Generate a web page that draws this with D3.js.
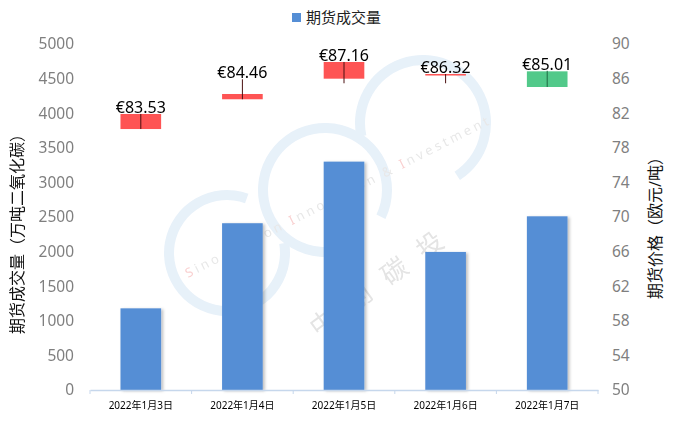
<!DOCTYPE html>
<html>
<head>
<meta charset="utf-8">
<script src="https://cdn.jsdelivr.net/npm/d3@7"></script>
<style>
  body { margin: 0; background: #fff; }
  text { font-family: "Noto Sans", "Noto Sans CJK SC", sans-serif; }
</style>
</head>
<body>
<script>
// data
var dates = ["2022年1月3日", "2022年1月4日", "2022年1月5日", "2022年1月6日", "2022年1月7日"];
var volume = [1180, 2410, 3300, 1995, 2510];
var open_ = [80.17, 83.61, 85.99, 86.53, 86.84];
var close_ = [81.91, 84.22, 87.92, 86.53, 85.03];
var low_ = [80.17, 83.61, 85.46, 85.46, 85.03];
var high_ = [81.91, 85.92, 87.92, 86.53, 86.90];
var priceLabels = ["€83.53", "€84.46", "€87.16", "€86.32", "€85.01"];
var volTicks = d3.range(0, 5001, 500);
var priceTicks = d3.range(50, 91, 4);

var W = 678, H = 421;
var left_ = 90, right_ = 598, top_ = 44, bottom_ = 390;

var svg = d3.select("body").append("svg")
    .attr("width", W)
    .attr("height", H);

var defs = svg.append("defs");
var f = defs.append("filter").attr("id", "shadow")
    .attr("x", "-20%").attr("y", "-5%").attr("width", "150%").attr("height", "110%");
f.append("feDropShadow").attr("dx", 2).attr("dy", 1).attr("stdDeviation", 1.5)
    .attr("flood-color", "#000").attr("flood-opacity", 0.25);

var x = d3.scaleBand().domain(dates).range([left_, right_]).paddingInner(0).paddingOuter(0);
var yVol = d3.scaleLinear().domain([0, 5000]).range([bottom_, top_]);
var yPrice = d3.scaleLinear().domain([50, 90]).range([bottom_, top_]);

// watermark
var wm = svg.append("g").attr("opacity", 0.5);
var circles = [[227, 253, 58, 1.4, 6.63], [325, 190, 62, 3.0, 8.3], [423, 123, 63, 4.5, 8.85]];
circles.forEach(function(c) {
    var arc = d3.arc().innerRadius(c[2] - 5).outerRadius(c[2] + 5)
        .startAngle(c[3]).endAngle(c[4]);
    wm.append("path").attr("d", arc()).attr("transform", "translate(" + c[0] + "," + c[1] + ")")
        .attr("fill", "#cfe2f3");
});
var wt = wm.append("text").attr("transform", "translate(188,278) rotate(-27)")
    .attr("font-size", 13).attr("letter-spacing", 3.2).attr("fill", "#d0d0d0");
[["S", "#f3a0a0"], ["ino Carbon ", null], ["I", "#f3a0a0"], ["nnovation & ", null], ["I", "#f3a0a0"], ["nvestment", null]]
    .forEach(function(p) { wt.append("tspan").text(p[0]).attr("fill", p[1] || "#d0d0d0"); });
wm.append("text").attr("transform", "translate(318,338) rotate(-36)")
    .attr("font-size", 26).attr("letter-spacing", 18).attr("fill", "#c8c8c8")
    .attr("font-family", "Noto Sans CJK SC").text("中创碳投");

// bars
svg.append("g").selectAll("rect").data(volume).join("rect")
    .attr("x", function(d, i) { return x(dates[i]) + x.bandwidth() * 0.3; })
    .attr("width", x.bandwidth() * 0.4)
    .attr("y", function(d) { return yVol(d); })
    .attr("height", function(d) { return yVol(0) - yVol(d); })
    .attr("fill", "#558ed5")
    .attr("filter", "url(#shadow)");

// x axis
var xa = svg.append("g").attr("transform", "translate(0," + bottom_ + ")")
    .call(d3.axisBottom(x).tickSize(0).tickPadding(12));
xa.select(".domain").attr("stroke", "#c6d7ec").attr("stroke-width", 1.3);
xa.selectAll("text").attr("font-size", 10).attr("fill", "#000")
    .attr("font-family", "Noto Sans CJK SC");
var bounds = dates.map(function(d) { return x(d); }).concat([right_]);
xa.selectAll(".bnd").data(bounds).join("line")
    .attr("x1", function(d) { return d; }).attr("x2", function(d) { return d; })
    .attr("y1", 0).attr("y2", 4).attr("stroke", "#c6d7ec");

// left axis
var ya = svg.append("g").attr("transform", "translate(74,0)")
    .call(d3.axisLeft(yVol).tickValues(volTicks).tickFormat(d3.format("d")).tickSize(0).tickPadding(0));
ya.select(".domain").remove();
ya.selectAll("text").attr("font-size", 15.5).attr("fill", "#7f7f7f");

// right axis
var yr = svg.append("g").attr("transform", "translate(612,0)")
    .call(d3.axisRight(yPrice).tickValues(priceTicks).tickFormat(d3.format("d")).tickSize(0).tickPadding(0));
yr.select(".domain").remove();
yr.selectAll("text").attr("font-size", 15.5).attr("fill", "#7f7f7f");

// axis titles
svg.append("text").attr("transform", "translate(23,230) rotate(-90)")
    .attr("text-anchor", "middle").attr("font-size", 16).attr("fill", "#111")
    .attr("font-family", "Noto Sans CJK SC").text("期货成交量（万吨二氧化碳）");
svg.append("text").attr("transform", "translate(661,224) rotate(-90)")
    .attr("text-anchor", "middle").attr("font-size", 16).attr("fill", "#111")
    .attr("font-family", "Noto Sans CJK SC").text("期货价格（欧元/吨）");

// candlesticks
var cw = x.bandwidth() * 0.4;
var cg = svg.append("g").selectAll("g").data(dates).join("g");
cg.append("rect")
    .attr("x", function(d, i) { return x(d) + x.bandwidth() / 2 - cw / 2; })
    .attr("width", cw)
    .attr("y", function(d, i) { return yPrice(Math.max(open_[i], close_[i])); })
    .attr("height", function(d, i) { return Math.max(1.5, Math.abs(yPrice(open_[i]) - yPrice(close_[i]))); })
    .attr("fill", function(d, i) { return close_[i] < open_[i] ? "#52c98a" : "#fe5454"; });
cg.append("line")
    .attr("x1", function(d) { return x(d) + x.bandwidth() / 2; })
    .attr("x2", function(d) { return x(d) + x.bandwidth() / 2; })
    .attr("y1", function(d, i) { return yPrice(high_[i]); })
    .attr("y2", function(d, i) { return yPrice(low_[i]); })
    .attr("stroke", function(d, i) { return close_[i] < open_[i] ? "#1e6b42" : "#4a1010"; })
    .attr("stroke-width", 1);
cg.append("text")
    .attr("x", function(d) { return x(d) + x.bandwidth() / 2; })
    .attr("y", function(d, i) { return yPrice(high_[i]) - 1; })
    .attr("text-anchor", "middle").attr("font-size", 16).attr("fill", "#000")
    .text(function(d, i) { return priceLabels[i]; });

// legend
var lg = svg.append("g").attr("transform", "translate(292,12)");
lg.append("rect").attr("width", 9).attr("height", 9).attr("y", 1).attr("fill", "#558ed5");
lg.append("text").attr("x", 14).attr("y", 11).attr("font-size", 15).attr("fill", "#222")
    .attr("font-family", "Noto Sans CJK SC").text("期货成交量");
</script>
</body>
</html>
